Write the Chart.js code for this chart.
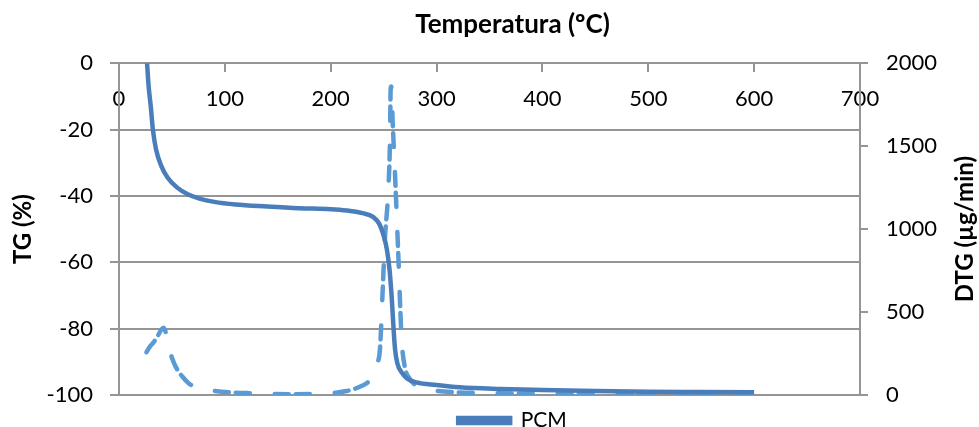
<!DOCTYPE html>
<html>
<head>
<meta charset="utf-8">
<script src="https://cdn.jsdelivr.net/npm/chart.js@4.4.0/dist/chart.umd.min.js"></script>
<style>
    html, body { margin: 0; padding: 0; background: #fff; }
    #wrap { width: 979px; height: 427px; }
</style>
</head>
<body>
<div id="wrap"><canvas id="tgChart"></canvas></div>
<script>
// TG curve (temperature ºC, mass %)
const tgTemp = [26.5, 28, 30, 32, 35, 40, 46, 55, 65, 76, 90, 110, 140, 170, 200, 215, 230, 240, 246, 250, 253, 255.5, 257.5, 259, 260.7, 263, 267, 272, 281, 300, 322, 360, 400, 450, 500, 550, 600];
const tgValues = [0, -7, -13, -20, -26, -31, -34.5, -37.5, -39.5, -40.8, -41.8, -42.6, -43.2, -43.7, -44.0, -44.4, -45.2, -46.3, -48.5, -52, -56, -62, -70, -78, -86, -90.5, -93.2, -95, -96.2, -97.0, -97.7, -98.2, -98.5, -98.8, -99.0, -99.1, -99.2];

// DTG curve (temperature ºC, µg/min)
const dtgTemp = [26, 29, 33, 37, 40, 42, 44, 46.5, 50, 54, 60, 66, 72, 80, 90, 105, 127, 145, 165, 183, 195, 205, 215, 222, 230, 236, 241, 244, 246.5, 249, 251.2, 254.4, 256, 256.6, 257.2, 258.5, 260.7, 263.9, 267, 270, 274.9, 280, 290, 300, 320, 350, 400, 450, 500, 550, 600];
const dtgValues = [258, 290, 320, 360, 395, 406, 380, 300, 225, 165, 110, 70, 48, 35, 25, 16, 10, 6, 5, 6, 9, 14, 24, 36, 57, 82, 130, 190, 276, 617, 937, 1237, 1538, 1838, 1860, 1650, 1337, 837, 336, 170, 96, 60, 36, 25, 16, 11, 8, 6, 5, 5, 5];

const xTicks = [0, 100, 200, 300, 400, 500, 600, 700];
const tgTicks = [-100, -80, -60, -40, -20, 0];
const dtgTicks = [0, 500, 1000, 1500, 2000];

const seriesName = "PCM";
const FONT = "Lato";
const axisGray = "#959595";

function toPoints(xs, ys) {
    return xs.map((x, i) => ({ x: x, y: ys[i] }));
}

// right axis title reads bottom-to-top, title and legend nudged like the original
const extras = {
    id: "extras",
    afterLayout(chart) {
        const lg = chart.legend;
        lg.left += 23; lg.right += 23;
        lg.top += 14; lg.bottom += 14;
        const tb = chart.titleBlock;
        tb.left += 23; tb.right += 23;
    },
    afterDraw(chart) {
        const ctx = chart.ctx;
        const area = chart.chartArea;
        ctx.save();
        ctx.translate(965, (area.top + area.bottom) / 2);
        ctx.rotate(-Math.PI / 2);
        ctx.font = "bold 24px " + FONT;
        ctx.fillStyle = "#000";
        ctx.textAlign = "center";
        ctx.textBaseline = "middle";
        ctx.fillText("DTG (µg/min)", 0, 0);
        ctx.restore();
    }
};

new Chart(document.getElementById("tgChart"), {
    type: "line",
    data: {
        datasets: [{
            label: seriesName,
            data: toPoints(tgTemp, tgValues),
            yAxisID: "y",
            borderColor: "#4a7ebb",
            backgroundColor: "#4a7ebb",
            borderWidth: 4.5,
            pointRadius: 0,
            cubicInterpolationMode: "monotone",
            order: 1
        }, {
            label: "DTG",
            data: toPoints(dtgTemp, dtgValues),
            yAxisID: "y2",
            borderColor: "#5b9bd5",
            backgroundColor: "#5b9bd5",
            borderWidth: 4.5,
            borderDash: [14, 7, 14, 25],
            borderCapStyle: "round",
            pointRadius: 0,
            cubicInterpolationMode: "monotone",
            order: 2
        }]
    },
    options: {
        responsive: true,
        maintainAspectRatio: false,
        animation: false,
        layout: { padding: 0 },
        plugins: {
            title: {
                display: true,
                text: "Temperatura (ºC)",
                color: "#000",
                font: { family: FONT, size: 26, weight: "bold" },
                padding: { top: 9, bottom: 23 }
            },
            legend: {
                position: "bottom",
                labels: {
                    color: "#000",
                    font: { family: FONT, size: 21 },
                    boxWidth: 52,
                    boxHeight: 5,
                    padding: 1,
                    filter: item => item.text === seriesName
                }
            },
            tooltip: { enabled: false }
        },
        scales: {
            x: {
                type: "linear",
                position: { y: 0 },
                min: 0,
                max: 700,
                afterBuildTicks: scale => { scale.ticks = xTicks.map(v => ({ value: v })); },
                grid: { drawOnChartArea: false, drawTicks: true, tickLength: 8, color: axisGray, lineWidth: 2 },
                border: { display: true, color: axisGray, width: 2 },
                ticks: { color: "#000", font: { family: FONT, size: 22 }, padding: 15, maxRotation: 0 }
            },
            y: {
                position: "left",
                min: -100,
                max: 0,
                afterBuildTicks: scale => { scale.ticks = tgTicks.map(v => ({ value: v })); },
                afterFit: scale => { scale.width = 119; },
                grid: { color: axisGray, lineWidth: 2, tickLength: 9 },
                border: { display: true, color: axisGray, width: 2 },
                ticks: { color: "#000", font: { family: FONT, size: 22 }, padding: 17 },
                title: {
                    display: true,
                    text: "TG (%)",
                    color: "#000",
                    font: { family: FONT, size: 24, weight: "bold" },
                    padding: { top: 9, bottom: 0 }
                }
            },
            y2: {
                position: "right",
                min: 0,
                max: 2000,
                afterBuildTicks: scale => { scale.ticks = dtgTicks.map(v => ({ value: v })); },
                afterFit: scale => { scale.width = 119; },
                grid: { drawOnChartArea: false, color: axisGray, lineWidth: 2, tickLength: 8 },
                border: { display: true, color: axisGray, width: 2 },
                ticks: { color: "#000", font: { family: FONT, size: 22 }, padding: 18, callback: v => String(v) }
            }
        }
    },
    plugins: [extras]
});
</script>
</body>
</html>
